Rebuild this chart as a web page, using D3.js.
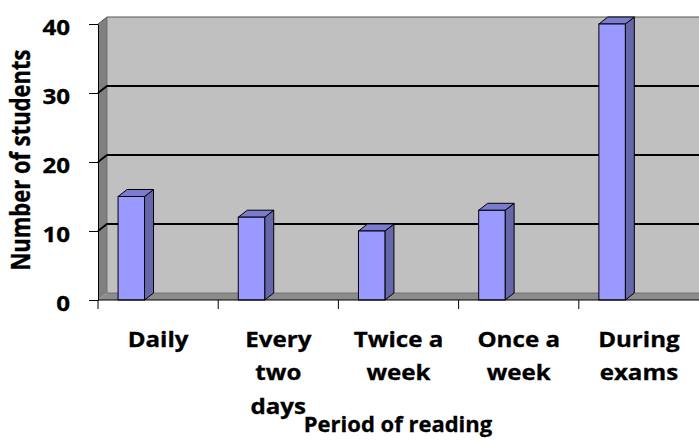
<!DOCTYPE html>
<html>
<head>
<meta charset="utf-8">
<script src="https://d3js.org/d3.v7.min.js"></script>
<style>
  body { margin: 0; background: #fff; }
  text { font-family: "Open Sans", sans-serif; font-weight: bold; fill: #000; stroke: #000; stroke-width: 0.3px; }
</style>
</head>
<body>
<svg width="699" height="441"></svg>
<script>
var categories = ["Daily", "Every two days", "Twice a week", "Once a week", "During exams"];
var tickLabels = [["Daily"], ["Every", "two", "days"], ["Twice a", "week"], ["Once a", "week"], ["During", "exams"]];
var students = [15, 12, 10, 13, 40];
var yTicks = [0, 10, 20, 30, 40];

var svg = d3.select("svg");
var pl = 98, pr = 699, pt = 24, pb = 300;
var dx = 9, dy = -7;   // depth offset of the 3d look
var sx = 1.15;         // text in the picture is stretched sideways

var x = d3.scaleBand().domain(categories).range([pl, pr]);
var y = d3.scaleLinear().domain([0, 40]).range([pb, pt]);

// walls and floor
svg.append("rect")
   .attr("x", pl + dx).attr("y", y(40) + dy)
   .attr("width", pr - pl - dx).attr("height", y(0) - y(40))
   .attr("fill", "#c0c0c0");

svg.append("polygon")
   .attr("points", [[pl, y(0)], [pl, y(40)], [pl + dx, y(40) + dy], [pl + dx, y(0) + dy]].join(" "))
   .attr("fill", "#808080");

svg.append("polygon")
   .attr("points", [[pl, y(0)], [pl + dx, y(0) + dy], [pr, y(0) + dy], [pr, y(0)]].join(" "))
   .attr("fill", "#8c8c8c");

// wall edges
svg.append("path")
   .attr("d", "M" + pl + "," + y(40) + "L" + (pl + dx) + "," + (y(40) + dy) + "L" + pr + "," + (y(40) + dy))
   .attr("fill", "none").attr("stroke", "#555").attr("stroke-width", 1);
svg.append("path")
   .attr("d", "M" + (pl + dx) + "," + (y(40) + dy) + "V" + (y(0) + dy) + "H" + pr)
   .attr("fill", "none").attr("stroke", "#666").attr("stroke-width", 0.8);

// gridlines
svg.selectAll(".grid")
   .data(yTicks.filter(function(d) { return d > 0 && d < 40; }))
   .enter().append("path")
   .attr("class", "grid")
   .attr("d", function(d) {
       return "M" + pl + "," + y(d) + "L" + (pl + dx) + "," + (y(d) + dy) + "L" + pr + "," + (y(d) + dy);
   })
   .attr("fill", "none").attr("stroke", "#000").attr("stroke-width", 1.8);

// bars
var bars = svg.selectAll(".bar")
   .data(students)
   .enter().append("g")
   .attr("class", "bar");

function bx(i) { return x(categories[i]) + x.bandwidth() * 0.167; }
var bw = x.bandwidth() * 0.22;

bars.append("polygon")
   .attr("points", function(d, i) {
       var a = bx(i) + bw;
       return [[a, y(0)], [a, y(d)], [a + dx, y(d) + dy], [a + dx, y(0) + dy]].join(" ");
   })
   .attr("fill", "#6666aa").attr("stroke", "#000").attr("stroke-width", 1);

bars.append("polygon")
   .attr("points", function(d, i) {
       var a = bx(i);
       return [[a, y(d)], [a + dx, y(d) + dy], [a + bw + dx, y(d) + dy], [a + bw, y(d)]].join(" ");
   })
   .attr("fill", "#7b7bd0").attr("stroke", "#000").attr("stroke-width", 1);

bars.append("rect")
   .attr("x", function(d, i) { return bx(i); })
   .attr("y", function(d) { return y(d); })
   .attr("width", bw)
   .attr("height", function(d) { return y(0) - y(d); })
   .attr("fill", "#9999ff").attr("stroke", "#000").attr("stroke-width", 1);

// y axis
var yAxis = svg.append("g")
   .attr("transform", "translate(" + pl + ",0)")
   .call(d3.axisLeft(y).tickValues(yTicks).tickSize(9).tickSizeOuter(0));
yAxis.select(".domain").attr("stroke", "#000");
yAxis.selectAll(".tick line").attr("stroke", "#000");
yAxis.selectAll(".tick text")
   .attr("x", null).attr("dy", null)
   .attr("transform", "translate(-28,10) scale(" + sx + ",1)")
   .attr("text-anchor", "end")
   .style("font-family", "'Open Sans', sans-serif")
   .style("font-weight", "bold")
   .style("font-size", "21px");

// x axis: line and ticks at band edges
svg.append("line")
   .attr("x1", pl).attr("x2", pr).attr("y1", pb).attr("y2", pb)
   .attr("stroke", "#000").attr("stroke-width", 1);
svg.selectAll(".xtick")
   .data(categories)
   .enter().append("line")
   .attr("class", "xtick")
   .attr("x1", function(d) { return x(d); }).attr("x2", function(d) { return x(d); })
   .attr("y1", pb).attr("y2", pb + 9)
   .attr("stroke", "#000");

var xl = svg.selectAll(".xlabel")
   .data(categories)
   .enter().append("text")
   .attr("class", "xlabel")
   .attr("transform", function(d) {
       return "translate(" + (x(d) + x.bandwidth() / 2) + ",347) scale(" + sx + ",1)";
   })
   .attr("text-anchor", "middle")
   .style("font-size", "21px");
xl.selectAll("tspan")
   .data(function(d, i) { return tickLabels[i]; })
   .enter().append("tspan")
   .attr("x", 0)
   .attr("y", function(d, j) { return j * 33.5; })
   .text(function(d) { return d; });

// axis titles
svg.append("text")
   .attr("transform", "translate(30,160) scale(1.2,1) rotate(-90)")
   .attr("text-anchor", "middle")
   .style("font-size", "22px")
   .text("Number of students");

svg.append("text")
   .attr("transform", "translate(398,432)")
   .attr("text-anchor", "middle")
   .style("font-size", "22px")
   .text("Period of reading");
</script>
</body>
</html>
